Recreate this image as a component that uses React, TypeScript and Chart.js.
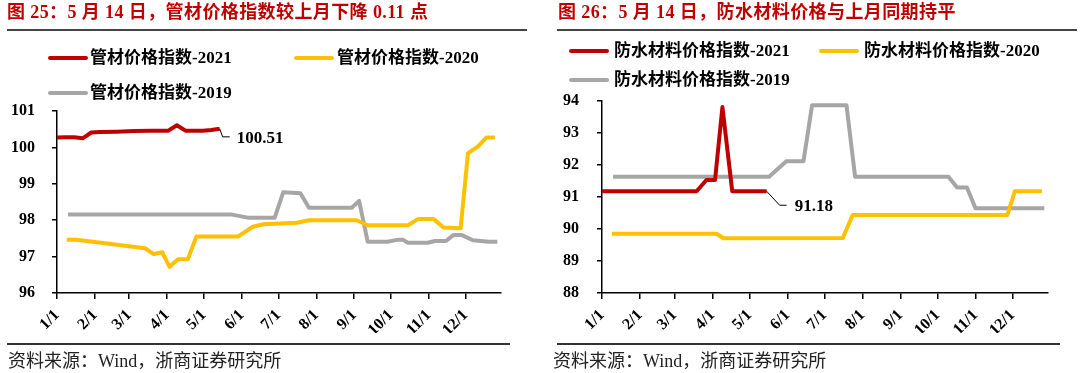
import React, { useEffect, useRef } from "react";
import { Chart, registerables } from "chart.js";

Chart.register(...registerables);

// ---- shared x axis (day of year) ----
const monthTickDays = [0, 31, 59, 90, 120, 151, 181, 212, 243, 273, 304, 334];
const monthTickLabels = ["1/1", "2/1", "3/1", "4/1", "5/1", "6/1", "7/1", "8/1", "9/1", "10/1", "11/1", "12/1"];

// ---- left panel: 管材价格指数 ----
const pipeYTicks = [96, 97, 98, 99, 100, 101];
const pipe2021Days = [0, 7, 14, 21, 28, 35, 49, 63, 77, 91, 98, 105, 112, 119, 126, 133];
const pipe2021Values = [100.27, 100.28, 100.28, 100.25, 100.41, 100.42, 100.43, 100.45, 100.46, 100.46, 100.61, 100.46, 100.46, 100.46, 100.48, 100.51];
const pipe2020Days = [8, 16, 72, 79, 86, 92, 99, 107, 114, 148, 160, 169, 196, 206, 245, 254, 287, 295, 308, 316, 330, 336, 344, 351, 358];
const pipe2020Values = [97.46, 97.46, 97.23, 97.07, 97.12, 96.72, 96.93, 96.93, 97.55, 97.55, 97.82, 97.89, 97.93, 98.0, 98.0, 97.86, 97.86, 98.03, 98.03, 97.8, 97.78, 99.84, 100.02, 100.27, 100.27];
const pipe2019Days = [9, 142, 156, 178, 185, 199, 206, 241, 247, 254, 270, 278, 283, 287, 303, 309, 318, 324, 331, 340, 353, 360];
const pipe2019Values = [98.16, 98.16, 98.07, 98.07, 98.77, 98.74, 98.34, 98.34, 98.53, 97.41, 97.41, 97.46, 97.46, 97.38, 97.38, 97.43, 97.43, 97.59, 97.59, 97.45, 97.41, 97.41];

// ---- right panel: 防水材料价格指数 ----
const wpYTicks = [88, 89, 90, 91, 92, 93, 94];
const wp2021Days = [0, 77, 85, 92, 98, 106, 134];
const wp2021Values = [91.18, 91.18, 91.53, 91.53, 93.81, 91.18, 91.18];
const wp2020Days = [8, 93, 99, 196, 204, 330, 336, 358];
const wp2020Values = [89.85, 89.85, 89.71, 89.72, 90.44, 90.44, 91.18, 91.18];
const wp2019Days = [9, 136, 150, 164, 171, 199, 206, 282, 289, 297, 304, 360];
const wp2019Values = [91.63, 91.63, 92.12, 92.12, 93.87, 93.87, 91.63, 91.63, 91.3, 91.3, 90.65, 90.65];

const RED = "#C00000";
const YELLOW = "#FFC000";
const GRAY = "#A6A6A6";

const SERIF = "'Liberation Serif', 'Times New Roman', 'Noto Sans CJK SC', serif";

type Series = { label: string; days: number[]; values: number[]; color: string };
type PanelSpec = {
  left: number;
  title: string;
  series: Series[];
  yTicks: number[];
  yWidth: number;
  yPad: number;
  padding: { top: number; right: number; bottom: number; left: number };
  legend: { line: number; text: number; top: number }[];
  lead: { dx1: number; dy1: number; dx2: number; tx: number; ty: number };
  underline: [number, number];
  footLine: [number, number];
  footX: number;
  titleX: number;
};

const panels: PanelSpec[] = [
  {
    left: 0,
    title: "图 25：5 月 14 日，管材价格指数较上月下降 0.11 点",
    series: [
      { label: "管材价格指数-2021", days: pipe2021Days, values: pipe2021Values, color: RED },
      { label: "管材价格指数-2020", days: pipe2020Days, values: pipe2020Values, color: YELLOW },
      { label: "管材价格指数-2019", days: pipe2019Days, values: pipe2019Values, color: GRAY },
    ],
    yTicks: pipeYTicks,
    yWidth: 57,
    yPad: 17,
    padding: { top: 111, right: 39, bottom: 40, left: 0 },
    legend: [
      { line: 48, text: 90, top: 58 },
      { line: 294, text: 337, top: 58 },
      { line: 48, text: 90, top: 93 },
    ],
    lead: { dx1: 3, dy1: 8, dx2: 10, tx: 17, ty: 10 },
    underline: [7, 527],
    footLine: [7, 510],
    footX: 8,
    titleX: 7,
  },
  {
    left: 540,
    title: "图 26：5 月 14 日，防水材料价格与上月同期持平",
    series: [
      { label: "防水材料价格指数-2021", days: wp2021Days, values: wp2021Values, color: RED },
      { label: "防水材料价格指数-2020", days: wp2020Days, values: wp2020Values, color: YELLOW },
      { label: "防水材料价格指数-2019", days: wp2019Days, values: wp2019Values, color: GRAY },
    ],
    yTicks: wpYTicks,
    yWidth: 62,
    yPad: 18,
    padding: { top: 101, right: 32, bottom: 40, left: 0 },
    legend: [
      { line: 29, text: 74, top: 51 },
      { line: 279, text: 324, top: 51 },
      { line: 29, text: 74, top: 80 },
    ],
    lead: { dx1: 13, dy1: 14, dx2: 20, tx: 28, ty: 15 },
    underline: [17, 537],
    footLine: [17, 520],
    footX: 13,
    titleX: 18,
  },
];

function Panel({ spec }: { spec: PanelSpec }) {
  const ref = useRef<HTMLCanvasElement>(null);
  useEffect(() => {
    if (!ref.current) return;
    const lead = spec.lead;
    const leaderPlugin = {
      id: "leader",
      afterDatasetsDraw(chart: any) {
        const meta = chart.getDatasetMeta(0);
        const pts = meta.data;
        const p = pts[pts.length - 1];
        const ds = chart.data.datasets[0].data as any[];
        const v = ds[ds.length - 1].y as number;
        const ctx = chart.ctx;
        ctx.save();
        ctx.strokeStyle = "#000";
        ctx.lineWidth = 1;
        ctx.beginPath();
        ctx.moveTo(p.x, p.y);
        ctx.lineTo(p.x + lead.dx1, p.y + lead.dy1);
        ctx.lineTo(p.x + lead.dx2, p.y + lead.dy1);
        ctx.stroke();
        ctx.fillStyle = "#000";
        ctx.font = `bold 17px ${SERIF}`;
        ctx.textAlign = "left";
        ctx.textBaseline = "middle";
        ctx.fillText(v.toFixed(2), p.x + lead.tx, p.y + lead.ty);
        ctx.restore();
      },
    };
    const chart = new Chart(ref.current, {
      type: "line",
      data: {
        datasets: spec.series.map((s) => ({
          label: s.label,
          data: s.days.map((d, i) => ({ x: d, y: s.values[i] })),
          borderColor: s.color,
          backgroundColor: s.color,
          borderWidth: 4,
          pointRadius: 0,
          tension: 0,
          fill: false,
          clip: 8,
          borderJoinStyle: "round" as const,
        })),
      },
      options: {
        responsive: false,
        animation: false,
        layout: { padding: spec.padding },
        plugins: { legend: { display: false }, tooltip: { enabled: false } },
        scales: {
          x: {
            type: "linear",
            min: 0,
            max: 363,
            afterBuildTicks: (axis: any) => {
              axis.ticks = monthTickDays.map((v) => ({ value: v }));
            },
            afterFit: (s: any) => {
              s.height = 40;
            },
            ticks: {
              autoSkip: false,
              minRotation: 45,
              maxRotation: 45,
              padding: 7,
              color: "#000",
              font: { family: SERIF, weight: "bold", size: 16 },
              callback: (v: any) => {
                const i = monthTickDays.indexOf(Number(v));
                return i >= 0 ? monthTickLabels[i] : "";
              },
            },
            grid: { drawOnChartArea: false, drawTicks: true, tickLength: 6, color: "#000", lineWidth: 1.5 },
            border: { color: "#000", width: 1.5 },
          },
          y: {
            min: spec.yTicks[0],
            max: spec.yTicks[spec.yTicks.length - 1],
            afterBuildTicks: (axis: any) => {
              axis.ticks = spec.yTicks.map((v) => ({ value: v }));
            },
            afterFit: (s: any) => {
              s.width = spec.yWidth;
            },
            ticks: {
              padding: spec.yPad,
              color: "#000",
              font: { family: SERIF, weight: "bold", size: 16 },
              callback: (v: any) => String(v),
            },
            grid: { drawOnChartArea: false, drawTicks: true, tickLength: 5, color: "#000", lineWidth: 1.5 },
            border: { color: "#000", width: 1.5 },
          },
        },
      },
      plugins: [leaderPlugin],
    });
    return () => chart.destroy();
  }, [spec]);

  return (
    <div style={{ position: "absolute", left: spec.left, top: 0, width: 540, height: 373, overflow: "hidden" }}>
      <canvas ref={ref} width={540} height={373} style={{ position: "absolute", left: 0, top: 0, width: 540, height: 373 }} />
      <div
        style={{
          position: "absolute",
          left: spec.titleX,
          top: 1,
          height: 22,
          lineHeight: "22px",
          whiteSpace: "nowrap",
          color: RED,
          fontFamily: SERIF,
          fontWeight: "bold",
          fontSize: 18,
          letterSpacing: "0.4px",
        }}
      >
        {spec.title}
      </div>
      <div style={{ position: "absolute", left: spec.underline[0], top: 29, width: spec.underline[1] - spec.underline[0], height: 1.5, background: "#444" }} />
      {spec.series.map((s, i) => {
        const L = spec.legend[i];
        return (
          <React.Fragment key={s.label}>
            <div style={{ position: "absolute", left: L.line, top: L.top - 2, width: 40, height: 4, borderRadius: 2, background: s.color }} />
            <div
              style={{
                position: "absolute",
                left: L.text,
                top: L.top - 11,
                height: 22,
                lineHeight: "22px",
                whiteSpace: "nowrap",
                color: "#000",
                fontFamily: SERIF,
                fontWeight: "bold",
                fontSize: 17,
              }}
            >
              {s.label}
            </div>
          </React.Fragment>
        );
      })}
      <div style={{ position: "absolute", left: spec.footLine[0], top: 343, width: spec.footLine[1] - spec.footLine[0], height: 1.5, background: "#333" }} />
      <div
        style={{
          position: "absolute",
          left: spec.footX,
          top: 350,
          height: 22,
          lineHeight: "22px",
          whiteSpace: "nowrap",
          color: "#222",
          fontFamily: SERIF,
          fontSize: 18,
        }}
      >
        资料来源：Wind，浙商证券研究所
      </div>
    </div>
  );
}

export default function App() {
  return (
    <div style={{ position: "absolute", left: 0, top: 0, width: 1080, height: 373, background: "#fff", overflow: "hidden" }}>
      {panels.map((p) => (
        <Panel key={p.left} spec={p} />
      ))}
    </div>
  );
}
